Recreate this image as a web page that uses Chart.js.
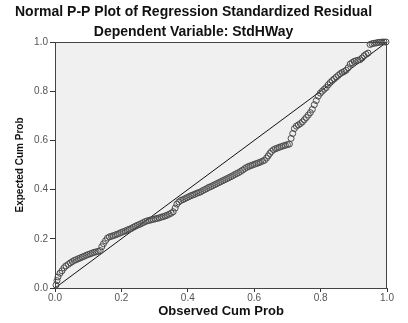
<!DOCTYPE html>
<html lang="en">
<head>
  <meta charset="UTF-8">
  <title>Normal P-P Plot</title>
  <script src="https://cdn.jsdelivr.net/npm/chart.js"></script>
  <style>
    body { margin: 0; background: #fff; }
  </style>
</head>
<body>
  <canvas id="ppChart" width="408" height="323"></canvas>

  <script>
    // observed cumulative probability (x) and expected cumulative probability (y)
    var observed = [
      0.003, 0.006, 0.009, 0.015, 0.021, 0.027, 0.033, 0.040, 0.046, 0.052,
      0.058, 0.064, 0.070, 0.076, 0.082, 0.088, 0.094, 0.100, 0.106, 0.112,
      0.118, 0.124, 0.130, 0.136, 0.141, 0.146, 0.152, 0.158, 0.164, 0.170,
      0.176, 0.182, 0.188, 0.194, 0.200, 0.206, 0.212, 0.218, 0.224, 0.230,
      0.236, 0.242, 0.248, 0.254, 0.260, 0.266, 0.272, 0.278, 0.284, 0.290,
      0.296, 0.302, 0.308, 0.314, 0.320, 0.326, 0.332, 0.338, 0.344, 0.350,
      0.356, 0.362, 0.367, 0.373, 0.379, 0.385, 0.391, 0.397, 0.403, 0.409,
      0.415, 0.421, 0.427, 0.433, 0.439, 0.445, 0.451, 0.457, 0.463, 0.469,
      0.475, 0.481, 0.487, 0.493, 0.499, 0.505, 0.511, 0.517, 0.523, 0.529,
      0.535, 0.541, 0.547, 0.553, 0.559, 0.565, 0.571, 0.577, 0.583, 0.589,
      0.595, 0.601, 0.607, 0.613, 0.619, 0.625, 0.631, 0.637, 0.642, 0.647,
      0.652, 0.658, 0.664, 0.670, 0.676, 0.682, 0.688, 0.694, 0.700, 0.706,
      0.711, 0.716, 0.721, 0.727, 0.733, 0.739, 0.745, 0.751, 0.757, 0.763,
      0.769, 0.775, 0.781, 0.787, 0.793, 0.799, 0.805, 0.811, 0.817, 0.823,
      0.829, 0.835, 0.841, 0.847, 0.853, 0.859, 0.865, 0.871, 0.877, 0.883,
      0.889, 0.895, 0.901, 0.907, 0.913, 0.919, 0.925, 0.931, 0.937, 0.943,
      0.949, 0.955, 0.961, 0.967, 0.973, 0.979, 0.985, 0.991, 0.997
    ];
    var expected = [
      0.012, 0.030, 0.045, 0.060, 0.070, 0.082, 0.090, 0.096, 0.102, 0.107,
      0.112, 0.115, 0.119, 0.122, 0.126, 0.129, 0.133, 0.136, 0.139, 0.142,
      0.145, 0.147, 0.149, 0.152, 0.168, 0.180, 0.192, 0.203, 0.208, 0.210,
      0.213, 0.216, 0.219, 0.222, 0.226, 0.229, 0.232, 0.236, 0.239, 0.242,
      0.247, 0.251, 0.255, 0.258, 0.262, 0.266, 0.270, 0.273, 0.275, 0.277,
      0.279, 0.281, 0.283, 0.285, 0.288, 0.290, 0.293, 0.296, 0.300, 0.304,
      0.310, 0.325, 0.341, 0.350, 0.356, 0.359, 0.363, 0.367, 0.371, 0.375,
      0.378, 0.381, 0.385, 0.388, 0.391, 0.396, 0.400, 0.404, 0.409, 0.412,
      0.416, 0.420, 0.424, 0.428, 0.432, 0.436, 0.440, 0.444, 0.448, 0.452,
      0.456, 0.461, 0.465, 0.469, 0.474, 0.479, 0.485, 0.490, 0.494, 0.497,
      0.500, 0.503, 0.506, 0.509, 0.512, 0.516, 0.519, 0.528, 0.537, 0.547,
      0.555, 0.562, 0.566, 0.569, 0.572, 0.575, 0.578, 0.580, 0.583, 0.585,
      0.608, 0.628, 0.648, 0.658, 0.663, 0.668, 0.675, 0.684, 0.693, 0.703,
      0.713, 0.726, 0.745, 0.762, 0.780, 0.792, 0.800, 0.808, 0.815, 0.826,
      0.835, 0.843, 0.850, 0.857, 0.864, 0.871, 0.876, 0.880, 0.885, 0.895,
      0.910, 0.916, 0.921, 0.924, 0.926, 0.928, 0.935, 0.944, 0.950, 0.955,
      0.990, 0.993, 0.995, 0.996, 0.998, 0.999, 1.000, 1.000, 1.000
    ];
    // reference diagonal
    var diagX = [0, 1];
    var diagY = [0, 1];
    var tickValues = [0, 0.2, 0.4, 0.6, 0.8, 1.0];

    var points = observed.map(function (x, i) { return { x: x, y: expected[i] }; });
    var diagonal = diagX.map(function (x, i) { return { x: x, y: diagY[i] }; });

    // grey plot background with a frame, like SPSS output
    var plotFrame = {
      id: 'plotFrame',
      beforeDraw: function (chart) {
        var a = chart.chartArea, c = chart.ctx;
        c.save();
        c.fillStyle = '#f0f0f0';
        c.fillRect(a.left, a.top, a.right - a.left, a.bottom - a.top);
        c.restore();
      },
      afterDraw: function (chart) {
        var a = chart.chartArea, c = chart.ctx;
        c.save();
        c.strokeStyle = '#444';
        c.lineWidth = 1;
        c.strokeRect(a.left + 0.5, a.top + 0.5, a.right - a.left - 1, a.bottom - a.top);
        c.restore();
      }
    };

    var ctx = document.getElementById('ppChart').getContext('2d');
    var ppChart = new Chart(ctx, {
      type: 'scatter',
      data: {
        datasets: [{
          label: 'Residual',
          data: points,
          pointRadius: 3,
          pointBackgroundColor: 'rgba(0,0,0,0)',
          pointBorderColor: '#4a4a4a',
          pointBorderWidth: 1,
          clip: false
        }, {
          type: 'line',
          label: 'Diagonal',
          data: diagonal,
          borderColor: '#111',
          borderWidth: 1,
          pointRadius: 0,
          fill: false
        }]
      },
      options: {
        responsive: false,
        animation: false,
        layout: { padding: { left: 0, right: 21, top: 0, bottom: 0 } },
        plugins: {
          legend: { display: false },
          tooltip: { enabled: false },
          title: {
            display: true,
            text: ['Normal P-P Plot of Regression Standardized Residual', 'Dependent Variable: StdHWay'],
            color: '#111',
            font: { family: 'Liberation Sans, Arial', size: 14, weight: 'bold', lineHeight: '20px' },
            padding: { top: 2, bottom: 0 }
          }
        },
        scales: {
          x: {
            type: 'linear',
            min: 0,
            max: 1,
            afterFit: function (s) { s.height = 35; },
            afterBuildTicks: function (s) { s.ticks = tickValues.map(function (v) { return { value: v }; }); },
            ticks: {
              color: '#555',
              font: { family: 'Liberation Sans, Arial', size: 10 },
              padding: 0,
              maxRotation: 0,
              callback: function (v) { return v.toFixed(1); }
            },
            grid: { drawOnChartArea: false, drawTicks: true, tickLength: 4, color: '#333' },
            border: { color: '#444' },
            title: {
              display: true,
              text: 'Observed Cum Prob',
              color: '#111',
              font: { family: 'Liberation Sans, Arial', size: 13, weight: 'bold' },
              padding: { top: 0, bottom: 4 }
            }
          },
          y: {
            type: 'linear',
            min: 0,
            max: 1,
            afterFit: function (s) { s.width = 55; },
            afterBuildTicks: function (s) { s.ticks = tickValues.map(function (v) { return { value: v }; }); },
            ticks: {
              color: '#555',
              font: { family: 'Liberation Sans, Arial', size: 10 },
              padding: 2,
              callback: function (v) { return v.toFixed(1); }
            },
            grid: { drawOnChartArea: false, drawTicks: true, tickLength: 5, color: '#333' },
            border: { color: '#444' },
            title: {
              display: true,
              text: 'Expected Cum Prob',
              color: '#111',
              font: { family: 'Liberation Sans, Arial', size: 10, weight: 'bold' },
              padding: { top: 14, bottom: 0 }
            }
          }
        }
      },
      plugins: [plotFrame]
    });
  </script>
</body>
</html>
